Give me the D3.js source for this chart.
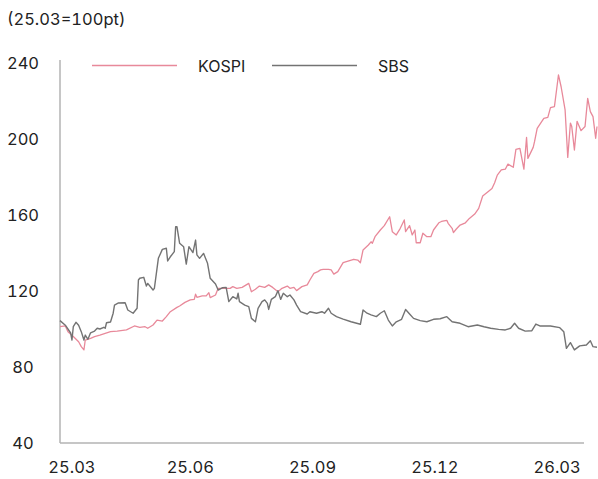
<!DOCTYPE html>
<html>
<head>
<meta charset="utf-8">
<script src="https://cdn.jsdelivr.net/npm/d3@7"></script>
<style>
  html, body { margin: 0; padding: 0; background: #fff; }
  svg { display: block; font-family: Inter, "Noto Sans", sans-serif; font-variant-numeric: tabular-nums; }
</style>
</head>
<body>
<svg id="chart" width="598" height="479"></svg>
<script>
// ---- data (index, 2025.03 = 100pt) ----
// day offsets are calendar days counted from 2025-02-20
const startDate = "2025-02-20";
const endDate = "2026-03-31";
const seriesNames = ["KOSPI", "SBS"];
const seriesColors = ["#e8899a", "#737373"];
const xTickLabels = ["25.03", "25.06", "25.09", "25.12", "26.03"];
const xTickDates = ["2025-03-01", "2025-05-29", "2025-08-29", "2025-11-29", "2026-03-01"];
const yTicks = [40, 80, 120, 160, 200, 240];
const unitLabel = "(25.03=100pt)";

const kospiDay = [0,4,6,10,14,16,18,19,23,26,30,34,38,43,50,56,60,64,66,70,73,77,80,83,88,90,94,98,101,102,103,107,110,112,113,117,119,123,128,130,133,137,142,144,147,150,154,157,160,164,167,171,173,176,178,182,186,188,191,194,196,198,202,204,206,209,213,221,224,226,228,232,234,235,237,241,244,248,250,253,256,259,260,263,265,267,268,271,273,276,279,281,285,287,291,292,295,296,298,301,305,308,312,315,318,322,325,327,329,332,335,337,341,343,346,349,351,352,356,357,359,364,367,369,372,375,377,380,382,384,385,387,389,392,395,397,399,401,403,404];
const kospiValue = [101.2,101.6,98.6,96,93.3,90.7,89,94.2,95.1,96,96.8,97.7,98.6,98.9,99.5,101.6,100.9,101.2,100.4,102.1,104.7,104.2,106.5,109.1,111.4,112.1,114,115.3,115.6,118.3,116.7,117.4,117.4,119.1,116.5,117.9,121.4,121.4,121.4,122.3,121.4,121.9,124,119.6,120.9,122.6,121.9,123.2,121.9,119.6,121.4,122.6,121.4,121.9,120.2,122.3,123.2,125.8,129.3,130.2,131.1,131.4,131.4,131.1,128.9,130.2,134.9,136.7,136.3,134.9,141.6,144.2,145.9,145.1,148.6,152.1,154.4,159.1,151.2,149.5,153,157.4,151.2,154.4,149.5,152.1,145.4,145.4,150.4,148.6,148.6,152.1,155.9,156.6,157.2,155.6,153,150.7,152.5,154.7,155.9,158.2,160.5,163.5,170,172.3,174,177,181,183.7,184.1,186.8,185.1,194.5,195.1,184.1,200.8,189.8,195.6,198.6,205.6,210.8,211.4,216.5,217.1,233.7,227.5,215.3,190.3,208.4,206.6,194.2,209.3,204.4,206.6,221.4,214.4,211.8,200.4,206.6];

const sbsDay = [0,4,8,9,10,12,14,16,18,19,21,23,26,28,30,33,34,35,38,40,41,44,49,51,55,58,59,60,63,64,65,66,70,71,74,77,80,81,83,86,87,88,90,93,95,97,100,102,103,105,108,111,113,117,119,122,125,127,130,133,134,135,139,142,144,147,149,152,154,156,157,159,162,164,166,168,171,173,176,178,181,186,188,193,197,199,202,204,208,213,219,226,228,231,234,238,241,244,247,250,253,257,260,263,266,271,276,281,286,291,295,301,307,314,319,324,330,335,339,342,345,350,355,358,361,369,376,379,381,384,387,391,396,399,401,404];
const sbsValue = [104.4,102,97.9,94.2,101.2,103.5,102,98.6,94.2,96.8,94.6,98,98.9,100.4,100,100.9,100.4,103.3,103.7,108.3,112.6,113.7,113.8,110,108.3,110.9,125.8,126.7,127.2,124.9,122.6,124,120.5,121.4,137.2,141.9,142.5,135.8,138,140.7,153.8,153.8,145.1,143.3,134.2,143.3,140.2,146.8,139,137.2,139.8,134.6,126.7,123.7,120.5,121.7,121.9,114.4,117,115.8,118.8,114.4,112.6,111.8,105.6,103.8,110.9,114.4,115.3,113.5,110.3,115.6,117,120.2,115.6,118.8,117,117.9,115.3,112.6,109.1,107.9,109.1,108.3,109.1,108.3,110.9,108.3,106.5,105.2,103.8,102.5,110,108.3,107.4,106.5,108.3,109.6,104.7,101.6,103.8,105.1,110.3,107.9,105.6,104.4,103.8,105.1,105.4,106.5,103.8,103,101.2,102.1,101.2,100.4,99.8,99.5,100.4,103,100.4,98.9,99.1,102.6,101.6,101.6,100.7,98.6,89.8,92.8,89,91.1,91.6,93.8,90.7,90.4];

// ---- build ----
const parse = d3.timeParse("%Y-%m-%d");
const t0 = parse(startDate);
const toRows = (days, vals) => days.map((d, i) => ({ date: d3.timeDay.offset(t0, d), value: vals[i] }));
const series = [toRows(kospiDay, kospiValue), toRows(sbsDay, sbsValue)];

const svg = d3.select("#chart");
const x = d3.scaleTime().domain([t0, parse(endDate)]).range([60, 597]);
const y = d3.scaleLinear().domain([40, 240]).range([443, 63]);

const axisColor = "#b3b3b3";
// axis lines
svg.append("line").attr("x1", 60).attr("x2", 60).attr("y1", 60).attr("y2", y(40))
  .attr("stroke", axisColor).attr("stroke-width", 1.5);
svg.append("line").attr("x1", 60).attr("x2", 584).attr("y1", y(40)).attr("y2", y(40))
  .attr("stroke", axisColor).attr("stroke-width", 1.5);

// y tick labels
svg.append("g").selectAll("text").data(yTicks).join("text")
  .attr("x", 23).attr("y", d => y(d)).attr("dy", "0.36em")
  .attr("text-anchor", "middle").attr("font-size", 16.5).attr("fill", "#222")
  .text(d => d);

// x tick labels
svg.append("g").selectAll("text").data(xTickDates).join("text")
  .attr("x", d => x(parse(d))).attr("y", 467).attr("dy", "0.36em")
  .attr("text-anchor", "middle").attr("font-size", 16.5).attr("fill", "#222")
  .text((d, i) => xTickLabels[i]);

// unit label
svg.append("text").attr("x", 7).attr("y", 19).attr("dy", "0.36em")
  .attr("font-size", 16.5).attr("fill", "#222").text(unitLabel);

// lines
const line = d3.line().x(d => x(d.date)).y(d => y(d.value));
series.forEach((s, i) => {
  svg.append("path").datum(s).attr("d", line)
    .attr("fill", "none").attr("stroke", seriesColors[i])
    .attr("stroke-width", i === 0 ? 1.3 : 1.4).attr("stroke-linejoin", "round");
});

// legend
const legendX = [92, 272];
seriesNames.forEach((name, i) => {
  svg.append("line").attr("x1", legendX[i]).attr("x2", legendX[i] + 85)
    .attr("y1", 65.5).attr("y2", 65.5).attr("stroke", seriesColors[i]).attr("stroke-width", 1.3);
  svg.append("text").attr("x", legendX[i] + 106).attr("y", 66).attr("dy", "0.36em")
    .attr("font-size", 16).attr("fill", "#222").text(name);
});
</script>
</body>
</html>
